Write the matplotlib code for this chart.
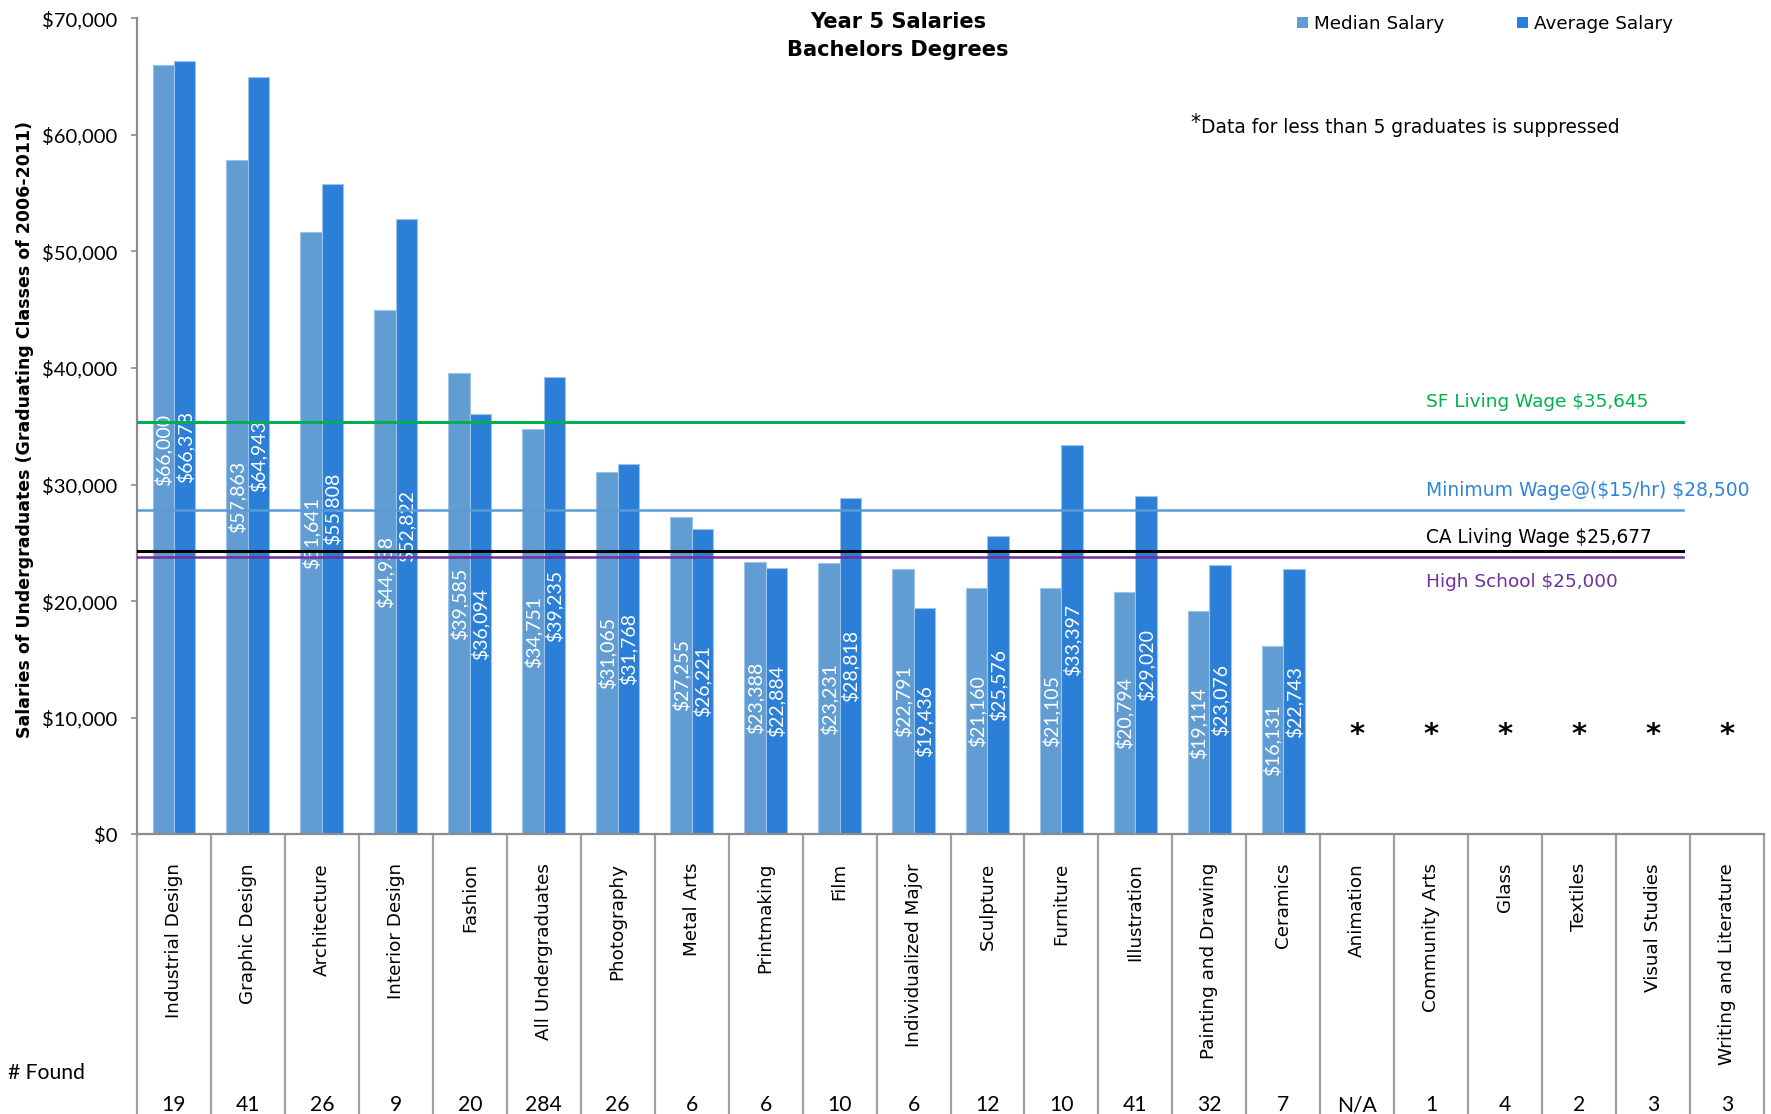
import matplotlib
matplotlib.use("Agg")
import matplotlib.pyplot as plt
import numpy as np
from matplotlib.patches import Patch
from matplotlib.ticker import FuncFormatter

plt.rcParams["text.parse_math"] = False

# ---------------- data ----------------
categories = ["Industrial Design", "Graphic Design", "Architecture", "Interior Design",
              "Fashion", "All Undergraduates", "Photography", "Metal Arts", "Printmaking",
              "Film", "Individualized Major", "Sculpture", "Furniture", "Illustration",
              "Painting and Drawing", "Ceramics", "Animation", "Community Arts", "Glass",
              "Textiles", "Visual Studies", "Writing and Literature"]
median_salary = [66000, 57863, 51641, 44938, 39585, 34751, 31065, 27255, 23388, 23231,
                 22791, 21160, 21105, 20794, 19114, 16131,
                 None, None, None, None, None, None]
average_salary = [66378, 64943, 55808, 52822, 36094, 39235, 31768, 26221, 22884, 28818,
                  19436, 25576, 33397, 29020, 23076, 22743,
                  None, None, None, None, None, None]
num_found = ["19", "41", "26", "9", "20", "284", "26", "6", "6", "10", "6", "12", "10",
             "41", "32", "7", "N/A", "1", "4", "2", "3", "3"]
yticks = [0, 10000, 20000, 30000, 40000, 50000, 60000, 70000]

ref_labels = ["SF Living Wage $35,645", "Minimum Wage@($15/hr) $28,500",
              "CA Living Wage $25,677", "High School $25,000"]
ref_levels = [35395, 27795, 24277, 23788]   # where the lines are drawn in the picture

# ---------------- styling ----------------
W, H = 1771, 1114
C_MED = "#619DD2"
C_AVG = "#2B7FD6"
C_EDGE = "#9cc4ea"
GRID = "#A0A0A0"
ref_line_colors = ["#00B050", "#5B9BD5", "#000000", "#7030A0"]
ref_text_colors = ["#00B050", "#2F85DA", "#000000", "#7030A0"]
ref_lw = [2.2, 1.8, 2.2, 1.8]
ref_text_baseline_px = [407, 496, 543, 587]
ref_text_width_px = [222, 322, 226, 191]

AX_L, AX_R, AX_T, AX_B = 137.0, 1764.0, 18.3, 834.3

fig = plt.figure(figsize=(W / 100, H / 100), dpi=100)
ax = fig.add_axes([AX_L / W, 1 - AX_B / H, (AX_R - AX_L) / W, (AX_B - AX_T) / H])
renderer = fig.canvas.get_renderer()


def axy(py):
    return (AX_B - py) / (AX_B - AX_T)


def axx(px):
    return (px - AX_L) / (AX_R - AX_L)


def figy(py):
    return 1 - py / H


def fit(t, target, vertical=False):
    bb = t.get_window_extent(renderer)
    cur = bb.height if vertical else bb.width
    t.set_fontsize(t.get_fontsize() * target / cur)
    return t.get_fontsize()


def fitted_size(s, target, family, weight="normal", vertical=False):
    t = fig.text(0, 0, s, family=family, weight=weight, fontsize=12,
                 rotation=90 if vertical else 0)
    fs = fit(t, target, vertical)
    t.remove()
    return fs


n = len(categories)
x = np.arange(n)
valid = np.array([m is not None for m in median_salary])
med = np.array([m if m is not None else np.nan for m in median_salary], dtype=float)
avg = np.array([a if a is not None else np.nan for a in average_salary], dtype=float)
bw = 0.29

ax.bar(x[valid] - bw / 2, med[valid], bw, color=C_MED, edgecolor=C_EDGE, linewidth=0.8,
       zorder=2)
ax.bar(x[valid] + bw / 2, avg[valid], bw, color=C_AVG, edgecolor=C_EDGE, linewidth=0.8,
       zorder=2)

ax.set_xlim(-0.5, n - 0.5)
ax.set_ylim(0, 70000)
ax.set_yticks(yticks)
ax.yaxis.set_major_formatter(FuncFormatter(lambda v, p: "${:,.0f}".format(v)))
ax.set_xticks([])
for s in ["top", "right"]:
    ax.spines[s].set_visible(False)
for s in ["left", "bottom"]:
    ax.spines[s].set_color("#8C8C8C")
    ax.spines[s].set_linewidth(1.6)

tick_fs = fitted_size("$70,000", 74.6, "Lato")
ax.tick_params(axis="y", length=4.3, width=1.2, color="#8C8C8C", pad=9.6,
               labelsize=tick_fs)
for lab in ax.get_yticklabels():
    lab.set_family("Lato")

# data labels inside bars
lab_fs = fitted_size("$23,388", 72, "Lato", vertical=True)
for i in x[valid]:
    for xv, v in ((i - bw / 2, med[i]), (i + bw / 2, avg[i])):
        ax.text(xv, v / 2, "${:,.0f}".format(v), rotation=90, ha="center", va="center",
                color="white", fontsize=lab_fs, family="Lato", zorder=3)

# reference lines
line_end = axx(1683)
for lvl, lab, lc, tc, lw, bpx, wpx in zip(ref_levels, ref_labels, ref_line_colors,
                                          ref_text_colors, ref_lw, ref_text_baseline_px,
                                          ref_text_width_px):
    ax.axhline(lvl, xmin=0, xmax=line_end, color=lc, lw=lw, zorder=5)
    fs = fitted_size(lab, wpx, "DejaVu Sans")
    ax.text(axx(1426), axy(bpx), lab, transform=ax.transAxes, ha="left", va="baseline",
            color=tc, fontsize=fs, family="DejaVu Sans", zorder=6)

# suppressed markers
for i in x[~valid]:
    ax.text(i, axy(743), "*", transform=ax.get_xaxis_transform(), ha="center",
            va="baseline", fontsize=21, weight="bold", family="DejaVu Sans")

# table below the axis
xt = ax.get_xaxis_transform()
ax.vlines(np.arange(n + 1) - 0.5, axy(H + 2), 0, transform=xt, colors=GRID, lw=1.6,
          clip_on=False)
cat_fs = fitted_size("Industrial Design", 155, "DejaVu Sans", vertical=True)
for i, c in enumerate(categories):
    ax.text(i, axy(863), c, transform=xt, rotation=90, ha="center", va="top",
            fontsize=cat_fs, family="DejaVu Sans", clip_on=False)
found_fs = fitted_size("# Found", 77, "Lato")
fig.text(8 / W, figy(1073), "# Found", ha="left", va="center", fontsize=found_fs,
         family="Lato")
for i, f in enumerate(num_found):
    ax.text(i, axy(1105), f, transform=xt, ha="center", va="center",
            fontsize=found_fs, family="Lato", clip_on=False)

# y-axis label
yl = fig.text(25 / W, figy(429), "Salaries of Undergraduates (Graduating Classes of 2006-2011)",
              rotation=90, ha="center", va="center", weight="bold", family="DejaVu Sans",
              fontsize=12)
fit(yl, 612, vertical=True)

# title
t1 = fig.text(898 / W, figy(28), "Year 5 Salaries", ha="center", va="baseline",
              weight="bold", family="DejaVu Sans", fontsize=15)
fit(t1, 177)
t2 = fig.text(898 / W, figy(56.5), "Bachelors Degrees", ha="center", va="baseline",
              weight="bold", family="DejaVu Sans", fontsize=t1.get_fontsize())

# legend
leg_fs = fitted_size("Median Salary", 130, "DejaVu Sans")
handles = [Patch(facecolor=C_MED, edgecolor="none"), Patch(facecolor=C_AVG, edgecolor="none")]
fig.legend(handles, ["Median Salary", "Average Salary"], loc="center left",
           bbox_to_anchor=(1297 / W, figy(24)), ncol=2, frameon=False,
           handlelength=0.6, handleheight=0.6, handletextpad=0.3, columnspacing=4.0,
           borderpad=0, borderaxespad=0,
           prop={"family": "DejaVu Sans", "size": leg_fs})

# footnote
fn_fs = fitted_size("Data for less than 5 graduates is suppressed", 417, "DejaVu Sans")
fig.text(1190 / W, figy(129), "*", ha="left", va="baseline", fontsize=fn_fs * 1.1,
         family="DejaVu Sans")
fig.text(1201 / W, figy(133.3), "Data for less than 5 graduates is suppressed", ha="left",
         va="baseline", fontsize=fn_fs, family="DejaVu Sans")

fig.savefig("out.png", dpi=100)
